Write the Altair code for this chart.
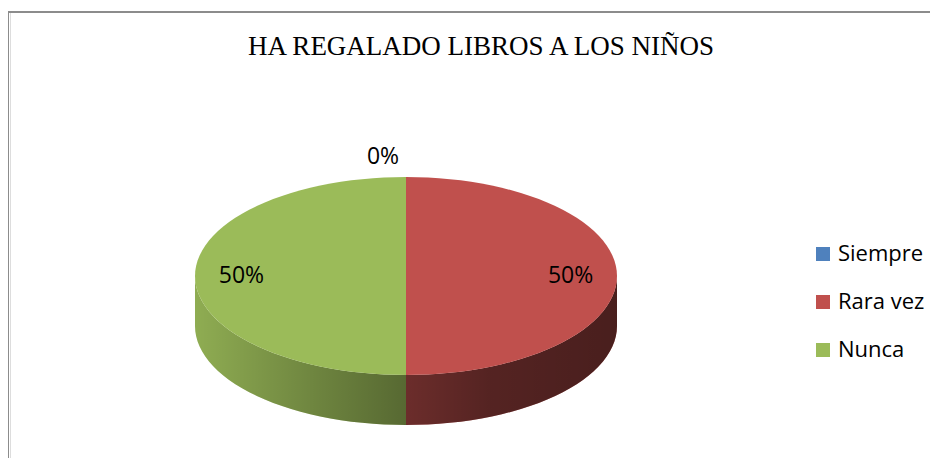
import altair as alt
import pandas as pd

# ---- data ----
categories = ["Siempre", "Rara vez", "Nunca"]
percentages = [0, 50, 50]
colors = ["#4F81BD", "#C0504D", "#9BBB59"]
title_text = "HA REGALADO LIBROS A LOS NIÑOS"

df = pd.DataFrame({"category": categories, "value": percentages,
                   "order": list(range(len(categories)))})

# ---- layout constants (pixels) ----
W, H = 920, 446
CX, CY = 396, 264          # ellipse centre inside the view
A, B, D = 211, 99, 50      # semi-axes and depth of the 3-D pie
N = 60                     # samples per slice edge

xs = alt.Scale(domain=[-CX, W - CX], nice=False, zero=False)
ys = alt.Scale(domain=[CY - H, CY], nice=False, zero=False)
fill_scale = alt.Scale(domain=categories, range=colors)

base = alt.Chart(df).transform_joinaggregate(
    total="sum(value)"
).transform_window(
    cum="sum(value)", sort=[alt.SortField("order")], frame=[None, 0]
).transform_calculate(
    a0="2*PI*(datum.cum - datum.value)/datum.total",
    a1="2*PI*datum.cum/datum.total",
)

# side walls (front half only)
side_pts = base.transform_calculate(
    steps=f"sequence(0, {N + 1})"
).transform_flatten(["steps"]).transform_calculate(
    th=f"clamp(datum.a0 + datum.steps/{N}*(datum.a1 - datum.a0), PI/2, 3*PI/2)"
).transform_calculate(
    x=f"{A}*sin(datum.th)",
    ytop=f"{B}*cos(datum.th)",
    ybot=f"{B}*cos(datum.th) - {D}",
)

side = side_pts.mark_area(strokeWidth=0).encode(
    x=alt.X("x:Q", scale=xs, axis=None),
    y=alt.Y("ytop:Q", scale=ys, axis=None, stack=None),
    y2="ybot:Q",
    fill=alt.Fill("category:N", scale=fill_scale, sort=categories,
                  legend=alt.Legend(title=None, orient="none", legendX=802, legendY=231,
                                    symbolType="square", symbolSize=196, symbolStrokeWidth=0,
                                    labelFont="Open Sans", labelFontSize=22, labelColor="#000000",
                                    labelOffset=4, rowPadding=26, padding=0)),
)

shade = side_pts.mark_area(
    strokeWidth=0,
    fill=alt.Gradient(
        gradient="linear", x1=0, x2=1, y1=0, y2=0,
        stops=[alt.GradientStop(color="rgba(0,0,0,0.08)", offset=0),
               alt.GradientStop(color="rgba(0,0,0,0.30)", offset=0.3),
               alt.GradientStop(color="rgba(0,0,0,0.44)", offset=0.5),
               alt.GradientStop(color="rgba(0,0,0,0.56)", offset=0.7),
               alt.GradientStop(color="rgba(0,0,0,0.62)", offset=1)],
    ),
).encode(
    x=alt.X("x:Q", scale=xs, axis=None),
    y=alt.Y("ytop:Q", scale=ys, axis=None, stack=None),
    y2="ybot:Q",
)

# top faces
top = base.transform_calculate(
    steps=f"sequence(0, {N + 2})"
).transform_flatten(["steps"]).transform_calculate(
    th=f"datum.a0 + (datum.steps - 1)/{N}*(datum.a1 - datum.a0)"
).transform_calculate(
    x=f"datum.steps == 0 ? 0 : {A}*sin(datum.th)",
    y=f"datum.steps == 0 ? 0 : {B}*cos(datum.th)",
).mark_line(strokeWidth=0, interpolate="linear").encode(
    x=alt.X("x:Q", scale=xs, axis=None),
    y=alt.Y("y:Q", scale=ys, axis=None),
    order=alt.Order("steps:Q"),
    detail="category:N",
    fill=alt.Fill("category:N", scale=fill_scale, sort=categories, legend=None),
)

# percentage labels
labels = base.transform_calculate(
    mid="(datum.a0 + datum.a1)/2",
    r="datum.value == 0 ? 1.2 : 0.78",
    label="format(datum.value/datum.total, '.0%')",
).transform_calculate(
    x=f"{A}*datum.r*sin(datum.mid) + (datum.value == 0 ? -23 : 0)",
    y=f"{B}*datum.r*cos(datum.mid)",
).mark_text(font="Open Sans", fontSize=23, color="#000000",
            align="center", baseline="middle").encode(
    x=alt.X("x:Q", scale=xs, axis=None),
    y=alt.Y("y:Q", scale=ys, axis=None),
    text="label:N",
)

# frame (left and top edges of the chart box)
frame_left = alt.Chart(df).mark_rule(color="#8C8C8C", strokeWidth=2).encode(
    x=alt.value(-2), y=alt.value(-1), y2=alt.value(H + 10))
frame_top = alt.Chart(df).mark_rule(color="#8C8C8C", strokeWidth=2).encode(
    x=alt.value(-3), x2=alt.value(W + 10), y=alt.value(0))

chart = alt.layer(side, shade, top, labels, frame_left, frame_top).properties(
    width=W, height=H,
    title=alt.TitleParams(title_text, font="Liberation Serif", fontSize=27,
                          fontWeight="normal", color="#000000", anchor="middle",
                          orient="top", offset=0, baseline="alphabetic", dy=72, dx=11),
    autosize=alt.AutoSizeParams(type="none"),
    padding={"left": 2, "top": 4, "right": 0, "bottom": 0},
).configure_view(stroke=None).configure(background="white")

chart.save("out.html", embed_options={"renderer": "svg", "actions": False})
